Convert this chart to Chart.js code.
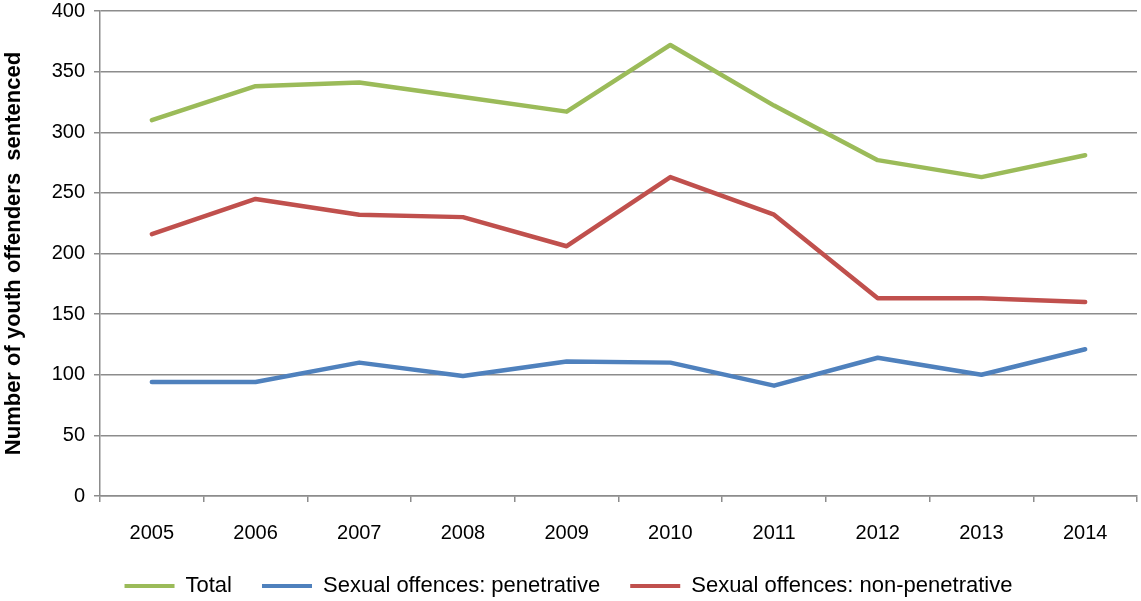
<!DOCTYPE html>
<html>
<head>
<meta charset="utf-8">
<script src="https://cdn.jsdelivr.net/npm/chart.js@4.4.1/dist/chart.umd.min.js"></script>
<style>
  html, body { margin: 0; padding: 0; background: #fff; }
  #wrap { width: 1141px; height: 601px; position: relative; }
</style>
</head>
<body>
<div id="wrap"><canvas id="c" width="1141" height="601"></canvas></div>
<script>
const years = ['2005','2006','2007','2008','2009','2010','2011','2012','2013','2014'];
const totalValues = [310, 338, 341, 329, 317, 372, 322, 277, 263, 281];
const penetrativeValues = [94, 94, 110, 99, 111, 110, 91, 114, 100, 121];
const nonPenetrativeValues = [216, 245, 232, 230, 206, 263, 232, 163, 163, 160];
const seriesNames = ['Total', 'Sexual offences: penetrative', 'Sexual offences: non-penetrative'];
const yTitle = 'Number of youth offenders  sentenced';

const FONT = "'Liberation Sans', Arial, sans-serif";
const gridColor = '#8c8c8c';
const legendPad = 30;
const legendFont = 22;

function ds(label, data, color) {
  return { label, data, borderColor: color, backgroundColor: color, pointBorderColor: color, pointBackgroundColor: color, pointBorderWidth: 4 };
}

new Chart(document.getElementById('c'), {
  type: 'line',
  data: {
    labels: years,
    datasets: [
      ds(seriesNames[0], totalValues, '#9BBB59'),
      ds(seriesNames[1], penetrativeValues, '#4F81BD'),
      ds(seriesNames[2], nonPenetrativeValues, '#C0504D')
    ]
  },
  options: {
    responsive: false,
    animation: false,
    devicePixelRatio: 1,
    layout: { padding: { top: 11, right: 4, left: 0, bottom: 0 } },
    elements: {
      line: { borderWidth: 4.5, tension: 0, borderCapStyle: 'round', borderJoinStyle: 'round', fill: false },
      point: { radius: 0, hoverRadius: 0 }
    },
    plugins: {
      tooltip: { enabled: false },
      legend: {
        position: 'bottom',
        maxHeight: 601 - 545,
        labels: {
          usePointStyle: true,
          pointStyle: 'line',
          pointStyleWidth: 50,
          padding: legendPad,
          color: '#000',
          font: { family: FONT, size: legendFont }
        }
      }
    },
    scales: {
      x: {
        offset: true,
        grid: { display: true, offset: true, drawOnChartArea: false, drawTicks: true, tickLength: 6, color: gridColor, lineWidth: 1.5 },
        border: { display: true, color: gridColor, width: 1.5 },
        ticks: { color: '#000', padding: 19, maxRotation: 0, font: { family: FONT, size: 20 } },
        afterFit: (s) => { s.height = 49; }
      },
      y: {
        min: 0, max: 400,
        grid: { color: gridColor, lineWidth: 1.5, tickLength: 6 },
        border: { display: true, color: gridColor, width: 1.5 },
        ticks: { stepSize: 50, color: '#000', padding: 9, font: { family: FONT, size: 20, lineHeight: 0.1 } },
        title: {
          display: true, text: yTitle, color: '#000',
          font: { family: FONT, size: 22, weight: 'bold' },
          padding: { top: 1, bottom: 10 }
        },
        afterFit: (s) => { s.width = 100; }
      }
    }
  }
});
</script>
</body>
</html>
